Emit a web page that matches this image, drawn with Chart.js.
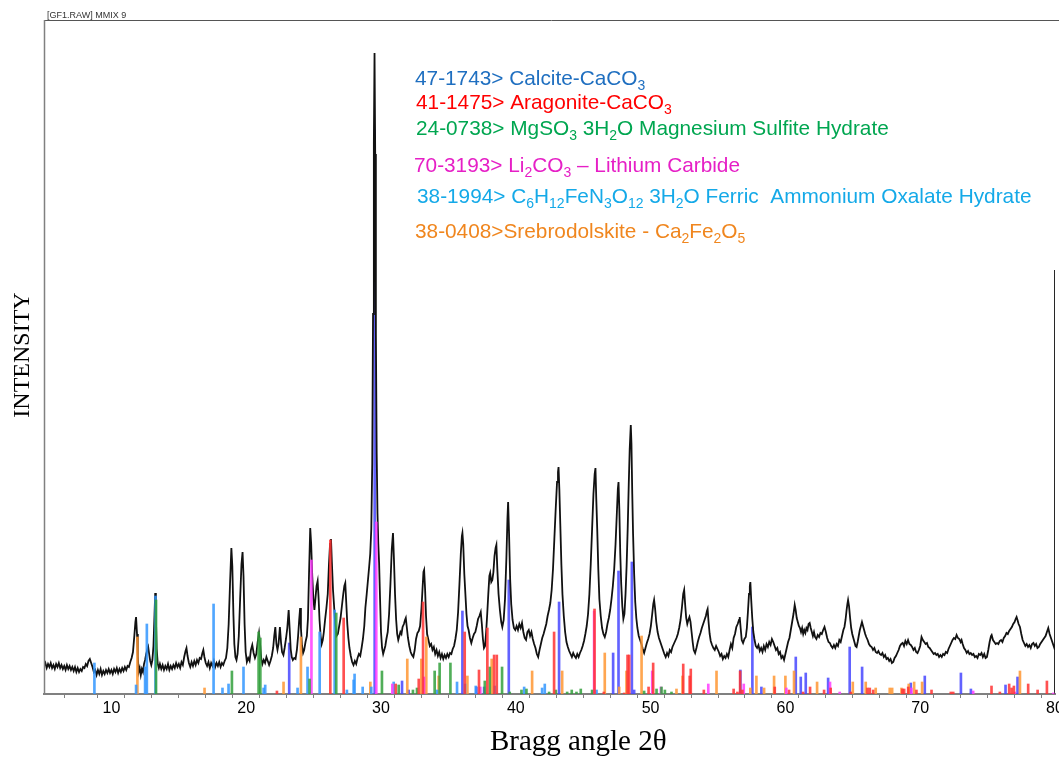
<!DOCTYPE html>
<html>
<head>
<meta charset="utf-8">
<script src="https://cdn.jsdelivr.net/npm/chart.js@4.4.1/dist/chart.umd.min.js"></script>
<style>
  body { margin: 0; background: #fff; }
  #wrap { width: 1059px; height: 757px; }
</style>
</head>
<body>
<div id="wrap"><canvas id="xrd" width="1059" height="757"></canvas></div>
<script>
// measured scan, [2theta, intensity]
var scan = [
  [5.0,28],[5.1,31],[5.2,26],[5.3,30],[5.4,27],[5.5,31],[5.6,26],[5.7,29],[5.8,25],[5.9,30],
  [6.0,27],[6.1,31],[6.2,26],[6.3,29],[6.4,25],[6.5,28],[6.6,24],[6.7,29],[6.8,25],[6.9,28],
  [7.0,24],[7.1,27],[7.2,23],[7.3,27],[7.4,22],[7.5,26],[7.6,22],[7.7,25],[7.8,23],[7.9,27],
  [8.0,26],[8.1,30],[8.2,28],[8.3,33],[8.4,35],[8.5,31],[8.6,27],[8.7,22],[8.8,24],[8.9,19],
  [9.0,24],[9.1,20],[9.2,25],[9.3,19],[9.4,23],[9.5,20],[9.6,24],[9.7,21],[9.8,25],[9.9,21],
  [10.0,24],[10.1,20],[10.2,25],[10.3,22],[10.4,26],[10.5,21],[10.6,25],[10.7,22],[10.8,26],[10.9,23],
  [11.0,27],[11.1,24],[11.2,28],[11.3,27],[11.4,32],[11.5,36],[11.6,42],[11.7,58],[11.78,72],[11.83,77],
  [11.9,60],[11.96,38],[12.02,22],[12.1,26],[12.18,19],[12.26,25],[12.34,22],[12.42,30],[12.5,34],[12.58,40],
  [12.66,44],[12.73,47],[12.8,40],[12.88,33],[12.96,29],[13.04,34],[13.12,48],[13.2,80],[13.25,101],[13.3,78],
  [13.36,45],[13.44,30],[13.52,26],[13.6,30],[13.7,25],[13.8,29],[13.9,24],[14.0,28],[14.1,25],[14.2,30],
  [14.3,24],[14.4,28],[14.5,25],[14.6,29],[14.7,26],[14.8,31],[14.9,27],[15.0,30],[15.1,26],[15.2,32],
  [15.3,29],[15.4,37],[15.5,43],[15.57,46],[15.65,38],[15.75,31],[15.85,27],[15.95,32],[16.05,28],[16.15,33],
  [16.25,29],[16.35,34],[16.45,31],[16.55,36],[16.65,35],[16.75,41],[16.82,44],[16.9,37],[17.0,31],[17.1,28],
  [17.2,32],[17.3,26],[17.4,31],[17.5,28],[17.6,33],[17.7,27],[17.8,31],[17.9,28],[18.0,32],[18.1,27],
  [18.2,31],[18.3,29],[18.4,33],[18.5,36],[18.6,46],[18.7,70],[18.8,110],[18.9,146],[18.97,128],[19.05,80],
  [19.12,50],[19.2,37],[19.28,34],[19.36,40],[19.45,58],[19.55,95],[19.65,130],[19.73,142],[19.8,118],[19.88,70],
  [19.96,42],[20.05,32],[20.15,36],[20.25,33],[20.35,44],[20.45,49],[20.55,41],[20.65,36],[20.75,40],[20.85,52],
  [20.95,61],[21.03,50],[21.12,35],[21.2,30],[21.3,34],[21.4,31],[21.5,37],[21.6,33],[21.7,29],[21.8,33],
  [21.9,38],[22.0,46],[22.08,58],[22.16,67],[22.24,50],[22.32,44],[22.4,50],[22.5,67],[22.58,52],[22.66,42],
  [22.76,39],[22.85,46],[22.95,55],[23.05,66],[23.15,84],[23.22,66],[23.3,45],[23.38,37],[23.46,34],[23.56,36],
  [23.66,35],[23.76,44],[23.85,58],[23.93,74],[24.0,86],[24.06,66],[24.14,48],[24.22,41],[24.3,44],[24.4,52],
  [24.5,58],[24.58,75],[24.66,120],[24.75,166],[24.82,150],[24.9,118],[24.98,96],[25.06,84],[25.14,96],[25.22,108],
  [25.3,113],[25.37,96],[25.44,74],[25.52,58],[25.6,50],[25.68,54],[25.76,62],[25.85,74],[25.95,86],[26.05,100],
  [26.14,130],[26.22,150],[26.29,155],[26.36,130],[26.44,104],[26.52,88],[26.6,70],[26.7,58],[26.8,60],[26.9,68],
  [27.0,76],[27.1,88],[27.2,100],[27.28,108],[27.35,111],[27.42,92],[27.5,70],[27.58,56],[27.66,46],[27.76,38],
  [27.86,32],[27.96,29],[28.06,33],[28.16,30],[28.26,36],[28.36,40],[28.46,38],[28.56,46],[28.66,55],[28.76,68],
  [28.84,86],[28.94,100],[29.04,115],[29.12,127],[29.2,140],[29.28,165],[29.35,230],[29.41,380],[29.47,550],[29.52,641],
  [29.57,540],[29.62,360],[29.68,240],[29.74,180],[29.8,150],[29.86,131],[29.93,95],[30.0,62],[30.08,46],[30.16,40],
  [30.24,44],[30.32,48],[30.4,55],[30.5,62],[30.6,80],[30.7,110],[30.8,145],[30.89,161],[30.96,135],[31.04,100],
  [31.12,75],[31.2,60],[31.28,54],[31.36,58],[31.44,62],[31.52,60],[31.6,67],[31.7,70],[31.78,74],[31.84,76],
  [31.92,66],[32.0,56],[32.1,48],[32.2,42],[32.3,39],[32.4,37],[32.5,44],[32.6,55],[32.7,61],[32.8,63],
  [32.9,68],[33.0,85],[33.08,105],[33.15,122],[33.2,124],[33.27,105],[33.34,78],[33.42,60],[33.52,54],[33.62,48],
  [33.72,50],[33.82,44],[33.92,47],[34.02,40],[34.12,44],[34.22,38],[34.32,42],[34.42,36],[34.52,40],[34.62,35],
  [34.72,39],[34.82,36],[34.92,40],[35.02,37],[35.12,41],[35.22,40],[35.32,45],[35.42,48],[35.52,55],[35.62,64],
  [35.72,82],[35.82,110],[35.92,140],[36.0,158],[36.04,161],[36.1,150],[36.18,120],[36.26,100],[36.34,80],[36.42,68],
  [36.5,64],[36.6,56],[36.7,51],[36.8,56],[36.9,60],[37.0,62],[37.1,68],[37.2,75],[37.3,78],[37.4,82],
  [37.48,70],[37.56,55],[37.64,46],[37.72,48],[37.8,62],[37.88,80],[37.96,100],[38.04,118],[38.1,121],[38.18,112],
  [38.26,114],[38.34,122],[38.42,138],[38.5,146],[38.56,149],[38.63,125],[38.72,100],[38.82,84],[38.92,72],[39.0,67],
  [39.1,74],[39.2,95],[39.3,135],[39.38,175],[39.43,192],[39.5,160],[39.58,115],[39.66,90],[39.76,74],[39.86,66],
  [39.96,64],[40.06,68],[40.16,64],[40.26,70],[40.36,66],[40.46,71],[40.56,62],[40.66,56],[40.76,54],[40.86,62],
  [40.96,64],[41.06,58],[41.16,62],[41.26,55],[41.36,50],[41.46,46],[41.56,40],[41.66,37],[41.76,44],[41.86,50],
  [41.96,56],[42.06,60],[42.16,65],[42.26,70],[42.36,78],[42.46,84],[42.56,91],[42.66,104],[42.76,125],[42.86,155],
  [42.96,185],[43.06,212],[43.13,222],[43.17,227],[43.23,205],[43.3,170],[43.38,130],[43.46,100],[43.56,78],[43.66,62],
  [43.76,52],[43.86,47],[43.96,43],[44.06,40],[44.16,37],[44.26,41],[44.36,38],[44.46,36],[44.56,40],[44.66,37],
  [44.76,41],[44.86,44],[44.96,48],[45.06,53],[45.16,60],[45.26,68],[45.36,80],[45.46,100],[45.56,130],[45.66,165],
  [45.76,200],[45.85,220],[45.91,226],[45.97,195],[46.04,165],[46.12,125],[46.2,95],[46.3,78],[46.4,66],[46.5,60],
  [46.6,57],[46.7,62],[46.8,70],[46.9,76],[47.0,84],[47.1,95],[47.2,108],[47.3,125],[47.4,150],[47.5,182],
  [47.57,205],[47.62,212],[47.68,185],[47.75,140],[47.82,110],[47.9,88],[47.98,75],[48.06,80],[48.14,100],[48.22,128],
  [48.3,165],[48.38,210],[48.45,245],[48.53,269],[48.58,250],[48.64,200],[48.7,160],[48.78,120],[48.86,92],[48.94,76],
  [49.02,66],[49.12,58],[49.22,54],[49.32,50],[49.42,45],[49.52,41],[49.62,46],[49.72,51],[49.82,55],[49.92,60],
  [50.02,68],[50.12,80],[50.2,90],[50.26,94],[50.33,86],[50.42,72],[50.52,62],[50.62,56],[50.72,52],[50.82,48],
  [50.92,44],[51.02,40],[51.12,37],[51.22,41],[51.32,38],[51.42,44],[51.52,42],[51.62,47],[51.72,50],[51.82,53],
  [51.92,56],[52.02,60],[52.12,66],[52.22,74],[52.32,86],[52.42,100],[52.49,104],[52.56,90],[52.64,76],[52.72,70],
  [52.8,74],[52.88,77],[52.96,72],[53.04,62],[53.12,52],[53.2,44],[53.3,41],[53.4,46],[53.5,52],[53.6,57],
  [53.7,61],[53.8,66],[53.9,70],[54.0,74],[54.1,78],[54.18,83],[54.23,85],[54.3,72],[54.38,60],[54.46,53],
  [54.56,49],[54.66,46],[54.76,44],[54.86,48],[54.96,45],[55.06,42],[55.16,38],[55.26,40],[55.36,35],[55.46,38],
  [55.56,36],[55.66,40],[55.76,37],[55.86,44],[55.96,50],[56.06,46],[56.16,56],[56.26,60],[56.36,67],[56.46,70],
  [56.56,74],[56.61,77],[56.68,66],[56.76,54],[56.86,51],[56.96,55],[57.06,57],[57.14,66],[57.22,82],[57.3,100],
  [57.36,108],[57.4,112],[57.46,95],[57.54,76],[57.62,62],[57.7,55],[57.8,48],[57.9,46],[58.0,49],[58.1,43],
  [58.2,46],[58.3,42],[58.4,48],[58.5,44],[58.6,50],[58.7,47],[58.8,52],[58.9,49],[59.0,55],[59.1,52],
  [59.2,48],[59.3,44],[59.4,46],[59.5,40],[59.6,42],[59.7,36],[59.8,38],[59.9,34],[60.0,40],[60.1,46],
  [60.2,52],[60.3,56],[60.4,64],[60.5,72],[60.6,80],[60.69,89],[60.76,84],[60.84,76],[60.92,72],[61.0,68],
  [61.08,66],[61.16,62],[61.24,66],[61.32,60],[61.4,64],[61.48,61],[61.56,66],[61.64,64],[61.72,70],[61.8,71],
  [61.88,66],[61.96,62],[62.04,58],[62.12,62],[62.2,57],[62.3,55],[62.4,59],[62.5,57],[62.6,61],[62.7,60],
  [62.8,64],[62.9,67],[63.0,62],[63.1,56],[63.2,52],[63.3,51],[63.4,48],[63.5,46],[63.6,49],[63.7,46],
  [63.8,50],[63.9,48],[64.0,54],[64.1,52],[64.2,58],[64.3,64],[64.38,67],[64.46,74],[64.54,84],[64.6,90],
  [64.65,94],[64.72,88],[64.8,76],[64.88,66],[64.96,60],[65.04,56],[65.12,52],[65.2,48],[65.28,47],[65.36,52],
  [65.44,58],[65.52,64],[65.6,68],[65.68,72],[65.76,68],[65.84,64],[65.92,60],[66.0,57],[66.1,54],[66.2,50],
  [66.3,48],[66.4,47],[66.5,44],[66.6,46],[66.7,42],[66.8,41],[66.9,43],[67.0,40],[67.1,39],[67.2,41],
  [67.3,37],[67.4,39],[67.5,35],[67.6,36],[67.7,33],[67.8,35],[67.9,31],[68.0,32],[68.1,36],[68.2,38],
  [68.3,41],[68.4,44],[68.5,48],[68.6,50],[68.7,51],[68.8,48],[68.9,53],[69.0,50],[69.1,54],[69.2,50],
  [69.3,49],[69.4,47],[69.5,44],[69.6,46],[69.7,42],[69.8,41],[69.9,44],[70.0,48],[70.1,57],[70.2,54],
  [70.3,52],[70.4,50],[70.5,51],[70.6,47],[70.7,46],[70.8,44],[70.9,42],[71.0,40],[71.1,41],[71.2,39],
  [71.3,40],[71.4,37],[71.5,39],[71.6,37],[71.7,40],[71.8,39],[71.9,42],[72.0,41],[72.1,45],[72.2,48],
  [72.3,51],[72.4,54],[72.5,56],[72.6,55],[72.7,59],[72.8,56],[72.9,55],[73.0,52],[73.07,54],[73.15,50],
  [73.25,46],[73.35,44],[73.45,41],[73.55,43],[73.65,40],[73.75,41],[73.85,39],[73.95,40],[74.05,37],[74.15,38],
  [74.25,36],[74.35,40],[74.45,39],[74.55,41],[74.65,37],[74.75,40],[74.85,36],[74.95,37],[75.05,44],[75.15,52],
  [75.25,58],[75.3,59],[75.4,54],[75.5,52],[75.6,50],[75.7,51],[75.8,50],[75.9,53],[76.0,54],[76.1,52],
  [76.2,56],[76.3,58],[76.4,61],[76.5,60],[76.6,63],[76.7,65],[76.8,67],[76.9,70],[77.0,72],[77.08,75],
  [77.15,77],[77.22,74],[77.3,70],[77.4,67],[77.5,60],[77.6,54],[77.7,51],[77.8,48],[77.9,50],[78.0,47],
  [78.1,49],[78.2,46],[78.3,50],[78.4,51],[78.5,48],[78.6,50],[78.7,46],[78.8,47],[78.9,50],[79.0,52],
  [79.1,54],[79.2,56],[79.3,58],[79.4,62],[79.5,66],[79.6,60],[79.7,56],[79.8,52],[79.9,48],[80.0,44],
  [80.0,0],[80.0,424]
];

// reference patterns (stick positions and relative heights)
var calcite = [[23.19,51],[29.53,564],[31.56,13],[32.05,4],[36.04,83],[37.08,7],[37.65,7],[39.48,114],[43.21,92],
  [47.22,41],[47.62,123],[48.61,132],[48.78,4],[56.66,24],[57.55,67],[58.22,7],[60.77,37],[61.14,17],[61.51,21],
  [63.17,16],[64.77,47],[65.69,27],[69.3,11],[70.34,18],[73.02,21],[73.76,5],[76.33,9],[77.22,17]];
var aragonite = [[22.28,3],[26.24,154],[27.23,76],[31.09,10],[32.8,15],[33.12,92],[36.21,62],[37.27,24],[37.89,66],
  [38.39,39],[38.59,39],[42.84,62],[45.84,85],[46.53,2],[48.04,1],[48.29,39],[48.41,39],[49.85,7],[50.19,31],
  [52.42,30],[52.9,18],[52.98,25],[53.95,4],[56.16,5],[56.44,2],[56.64,23],[56.81,4],[59.21,7],[60.27,4],[61.31,2],
  [61.83,7],[62.87,4],[63.36,6],[64.85,2],[66.09,6],[66.26,6],[66.51,4],[68.68,5],[68.81,5],[69.11,7],[69.72,4],
  [70.84,4],[72.27,2],[72.45,2],[75.29,8],[75.91,2],[76.6,10],[76.78,6],[76.95,8],[78.01,10],[78.71,4],[79.4,13]];
var mgSulfite = [[13.31,94],[18.94,23],[20.92,62],[21.05,56],[24.7,15],[26.68,81],[30.07,23],[31.31,9],[32.37,4],
  [32.67,6],[33.98,23],[34.35,31],[35.15,31],[37.7,13],[38.07,27],[38.98,27],[39.55,2],[40.42,4],[40.79,5],[42.47,2],
  [42.97,4],[43.81,2],[44.15,4],[44.5,2],[44.82,5],[45.66,4],[49.52,3],[50.44,5],[50.81,7],[51.06,4],[51.55,2]];
var liCarbonate = [[24.84,134],[29.65,172],[30.84,10],[33.19,17],[37.37,7],[45.81,83],[50.12,23],[50.76,7],[54.28,10],
  [56.91,10],[60.07,6],[63.31,12],[64.03,2],[69.35,6],[73.93,3],[77.02,2],[79.87,1]];
var ferricOxalate = [[8.74,31],[11.83,9],[12.5,27],[12.63,70],[13.27,98],[17.58,90],[18.24,6],[18.69,10],[19.8,27],
  [21.29,6],[21.41,9],[23.81,6],[24.55,27],[25.45,62],[26.56,84],[27.47,4],[27.97,14],[28.04,20],[28.64,7],[29.28,7],
  [30.94,12],[34.16,4],[35.64,12],[36.23,10],[37.03,8],[38.44,8],[40.62,7],[41.95,6],[42.15,10],[45.99,4]];
var srebrodolskite = [[11.93,57],[16.91,6],[22.77,12],[24.06,57],[29.21,12],[31.95,35],[32.99,35],[33.36,57],[34.28,18],
  [36.41,18],[38.21,35],[41.21,23],[43.44,23],[46.6,41],[47.67,7],[48.21,23],[49.33,58],[51.92,5],[52.37,18],[54.89,23],
  [57.4,6],[57.85,18],[58.42,6],[59.16,18],[60.0,18],[60.64,23],[62.35,12],[65.0,12],[65.96,12],[66.7,6],[67.74,6],
  [67.92,6],[68.61,6],[69.15,10],[69.55,12],[70.14,12],[77.4,23]];

var xTickLabels = [10, 20, 30, 40, 50, 60, 70, 80];

var legendLines = [
  [['47-1743> Calcite-CaCO',0],['3',1]],
  [['41-1475> Aragonite-CaCO',0],['3',1]],
  [['24-0738> MgSO',0],['3',1],[' 3H',0],['2',1],['O Magnesium Sulfite Hydrate',0]],
  [['70-3193> Li',0],['2',1],['CO',0],['3',1],[' \u2013 Lithium Carbide',0]],
  [['38-1994> C',0],['6',1],['H',0],['12',1],['FeN',0],['3',1],['O',0],['12',1],[' 3H',0],['2',1],['O Ferric  Ammonium Oxalate Hydrate',0]],
  [['38-0408>Srebrodolskite - Ca',0],['2',1],['Fe',0],['2',1],['O',0],['5',1]]
];
var legendColors = ['#1f6fc0', '#ff0000', '#00a650', '#e61fc6', '#14a9e8', '#f0861e'];
var legendX = [415, 416, 416, 414, 417, 415];
var legendY = [85, 109, 135, 172, 203, 238];

function pts(arr) {
  return arr.map(function(p){ return {x: p[0], y: p[1]}; });
}

function sticks(label, arr, color, order) {
  return {
    type: 'bar', label: label, data: pts(arr),
    backgroundColor: color, borderWidth: 0,
    barThickness: 2, grouped: false, order: order || 1
  };
}

var decor = {
  id: 'decor',
  afterDraw: function(chart) {
    var ctx = chart.ctx, a = chart.chartArea;
    ctx.save();
    // frame
    ctx.strokeStyle = '#555';
    ctx.lineWidth = 1;
    ctx.beginPath();
    ctx.moveTo(a.left, 20.5); ctx.lineTo(1059, 20.5);
    ctx.stroke();
    ctx.strokeStyle = '#808080';
    ctx.lineWidth = 1.5;
    ctx.beginPath();
    ctx.moveTo(a.left + 0.5, 20); ctx.lineTo(a.left + 0.5, a.bottom);
    ctx.stroke();

    ctx.fillStyle = '#333';
    ctx.font = '9px "Liberation Sans", Arial, sans-serif';
    ctx.textBaseline = 'alphabetic';
    ctx.fillText('[GF1.RAW] MMIX 9', 47, 18);

    // legend of phases
    for (var i = 0; i < legendLines.length; i++) {
      var x = legendX[i];
      ctx.fillStyle = legendColors[i];
      legendLines[i].forEach(function(seg) {
        if (seg[1]) {
          ctx.font = '14px "Liberation Sans", Arial, sans-serif';
          ctx.fillText(seg[0], x, legendY[i] + 5);
        } else {
          ctx.font = '20.8px "Liberation Sans", Arial, sans-serif';
          ctx.fillText(seg[0], x, legendY[i]);
        }
        x += ctx.measureText(seg[0]).width;
      });
    }

    // axis titles
    ctx.fillStyle = '#000';
    ctx.font = '29px "Liberation Serif", "Times New Roman", serif';
    ctx.fillText('Bragg angle 2\u03b8', 490, 750);

    ctx.translate(29, 355);
    ctx.rotate(-Math.PI / 2);
    ctx.textAlign = 'center';
    ctx.font = '24px "Liberation Serif", "Times New Roman", serif';
    ctx.fillText('INTENSITY', 0, 0);
    ctx.restore();
  }
};

new Chart(document.getElementById('xrd'), {
  data: {
    datasets: [
      sticks('47-1743 Calcite', calcite, 'rgba(70,70,255,0.85)', 9),
      sticks('41-1475 Aragonite', aragonite, 'rgba(255,50,50,0.85)'),
      sticks('24-0738 MgSO3 3H2O', mgSulfite, 'rgba(50,160,60,0.85)'),
      sticks('70-3193 Li2CO3', liCarbonate, 'rgba(255,60,255,0.85)'),
      sticks('38-1994 Ferric Ammonium Oxalate', ferricOxalate, 'rgba(50,150,255,0.85)'),
      sticks('38-0408 Srebrodolskite', srebrodolskite, 'rgba(255,150,50,0.85)'),
      {
        type: 'line', label: 'GF1', data: pts(scan),
        borderColor: '#111', borderWidth: 1.8,
        pointRadius: 0, tension: 0, order: 5
      }
    ]
  },
  options: {
    responsive: false,
    animation: false,
    devicePixelRatio: 1,
    layout: { padding: { left: 44, top: 20, right: 4, bottom: 0 } },
    plugins: { legend: { display: false }, tooltip: { enabled: false } },
    scales: {
      x: {
        type: 'linear', min: 5, max: 80, offset: false,
        afterFit: function(s) { s.height = 63; s.paddingLeft = 0; s.paddingRight = 0; },
        ticks: {
          stepSize: 2, autoSkip: false, maxRotation: 0, padding: 1,
          color: '#000',
          font: { family: '"Liberation Sans", Arial, sans-serif', size: 16 },
          callback: function(v) { return xTickLabels.indexOf(v) >= 0 ? String(v) : ''; }
        },
        grid: { drawOnChartArea: false, drawTicks: true, tickLength: 4, color: '#808080' },
        border: { display: true, color: '#808080', width: 2 }
      },
      y: {
        display: false, min: 0, max: 674
      }
    }
  },
  plugins: [decor]
});
</script>
</body>
</html>
